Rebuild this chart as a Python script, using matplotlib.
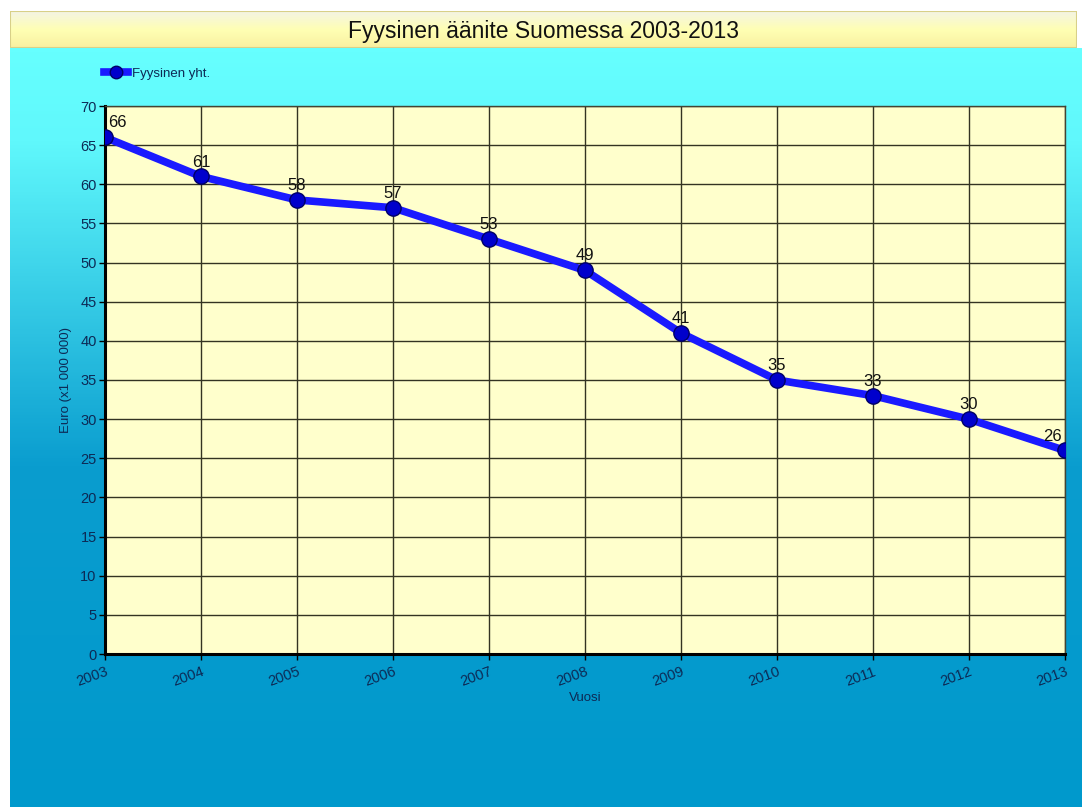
import matplotlib.pyplot as plt
import numpy as np
from matplotlib.colors import LinearSegmentedColormap
from matplotlib.patches import Rectangle

years = [2003, 2004, 2005, 2006, 2007, 2008, 2009, 2010, 2011, 2012, 2013]
values = [66, 61, 58, 57, 53, 49, 41, 35, 33, 30, 26]
series_name = "Fyysinen yht."
title = "Fyysinen äänite Suomessa 2003-2013"

W, H = 1082, 807
plt.rcParams['font.family'] = ['Liberation Sans', 'DejaVu Sans']

fig = plt.figure(figsize=(W / 100, H / 100), dpi=100)
fig.patch.set_facecolor('white')

# background gradient panel (cyan -> blue)
bg = fig.add_axes([10 / W, 0, 1 - 10 / W, 1 - 48 / H])
bg.set_axis_off()
cmap_bg = LinearSegmentedColormap.from_list('bg', [(0, '#66ffff'), (0.12, '#60f8fc'), (0.55, '#0a9dcf'), (1, '#0099cc')])
grad = np.linspace(0, 1, 300).reshape(-1, 1)
bg.imshow(grad, aspect='auto', cmap=cmap_bg, extent=[0, 1, 0, 1], origin='upper')
bg.set_xlim(0, 1)
bg.set_ylim(0, 1)

# title bar
tb = fig.add_axes([10 / W, 1 - 48 / H, 1 - 15 / W, 37 / H])
tb.set_axis_off()
cmap_tb = LinearSegmentedColormap.from_list('tb', ['#f4f4e4', '#ffffb4', '#f8f0a0'])
tb.imshow(np.linspace(0, 1, 50).reshape(-1, 1), aspect='auto', cmap=cmap_tb, extent=[0, 1, 0, 1], origin='upper')
tb.add_patch(Rectangle((0, 0), 1, 1, fill=False, edgecolor='#d8d088', lw=1.5, transform=tb.transAxes))
tb.set_xlim(0, 1)
tb.set_ylim(0, 1)
tb.text(0.5, 0.45, title, ha='center', va='center', fontsize=16.5, color='#111111')

# main plot
ax = fig.add_axes([105 / W, 1 - 654 / H, (1065 - 105) / W, (654 - 106) / H])
ax.set_facecolor('#ffffcc')
ax.plot(years, values, color='#1a1aff', lw=5.5, solid_capstyle='round', zorder=3)
ax.plot(years, values, 'o', color='#0000cc', markeredgecolor='#000066', markersize=11, zorder=4)
for i, (x, y) in enumerate(zip(years, values)):
    ha, dx = 'center', 0
    if i == 0:
        ha, dx = 'left', 2
    elif i == len(years) - 1:
        ha, dx = 'right', -2
    ax.annotate(str(y), (x, y), xytext=(dx, 5), textcoords='offset points',
                ha=ha, va='bottom', fontsize=12, color='#111111', zorder=5)

ax.set_xlim(2003, 2013)
ax.set_ylim(0, 70)
ax.set_xticks(years)
ax.set_yticks(range(0, 71, 5))
ax.grid(True, color='#333322', lw=1)
ax.set_axisbelow(True)
for side in ['top', 'right']:
    ax.spines[side].set_color('#444433')
    ax.spines[side].set_linewidth(1)
for side in ['left', 'bottom']:
    ax.spines[side].set_color('black')
    ax.spines[side].set_linewidth(2.2)
ax.tick_params(axis='both', colors='#0d2a55', labelsize=10.5, length=4, width=1)
ax.tick_params(axis='both', color='black')
ax.tick_params(axis='y', pad=2)
plt.setp(ax.get_xticklabels(), rotation=20, ha='right', rotation_mode='anchor')
ax.set_xlabel('Vuosi', fontsize=9.5, color='#0d2a55', labelpad=2)
ax.set_ylabel('Euro (x1 000 000)', fontsize=9.5, color='#0d2a55', labelpad=6)

# legend
ax.legend([plt.Line2D([], [], color='#1a1aff', lw=5.5, marker='o', markersize=9,
                      markerfacecolor='#0000cc', markeredgecolor='#000066')],
          [series_name], loc='upper left', bbox_to_anchor=(92 / W, 1 - 56 / H),
          bbox_transform=fig.transFigure, frameon=False, fontsize=9.5,
          handlelength=1.8, handletextpad=0.3, labelcolor='#0d2a55')

fig.savefig('out.png', dpi=100)
